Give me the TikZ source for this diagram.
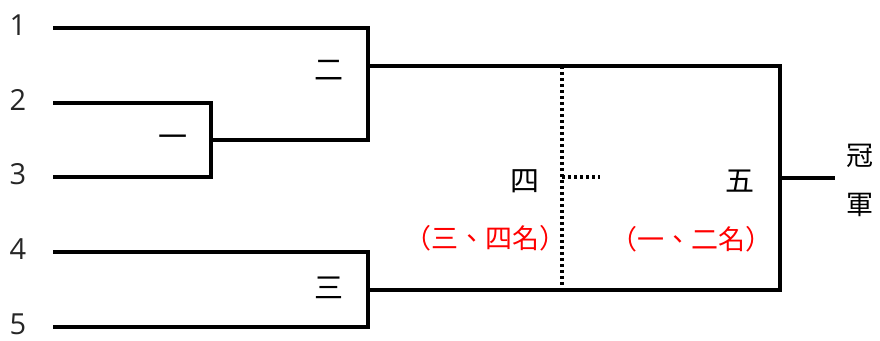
\documentclass[tikz,border=0pt]{standalone}
\usepackage{fontspec}
\setmainfont{Open Sans}
\newfontfamily\cjk{Noto Sans CJK TC}
\usepackage{tikz}
\tikzset{>=latex}

\begin{document}
\begin{tikzpicture}[x=1pt,y=-1pt,line width=3.2pt,line cap=rect,
	seed/.style={anchor=west,inner sep=0pt,font=\fontsize{29}{29}\selectfont\color{black!85}},
	round/.style={inner sep=0pt,font=\cjk\fontsize{29}{29}\selectfont},
	rank/.style={inner sep=0pt,text=red,font=\cjk\fontsize{27}{27}\selectfont},
	dotline/.style={line width=3.5pt,line cap=butt,dash pattern=on 3pt off 3pt}]
	\useasboundingbox (0,0) rectangle (880,340);
	\foreach \n/\y in {1/28,2/103,3/177,4/252,5/327}{
		\node[seed] (n\n) at (8,\y-3) {\n};
		\coordinate (s\n) at (55,\y);
	}
	\coordinate (g1) at (211,140);
	\coordinate (g2) at (368,66);
	\coordinate (g3) at (368,290);
	\coordinate (g5) at (780,178);
	\coordinate (champ) at (833,178);
	\coordinate (d4) at (562,66);
	\coordinate (d5) at (600,177);
	\draw (s2) -| (g1) |- (s3);
	\draw (s1) -| (g2) |- (g1);
	\draw (s4) -| (g3) |- (s5);
	\draw (g2) -| (g5) |- (g3);
	\draw (g5) -- (champ);
	\draw[dotline] (d4) -- (d4 |- g3);
	\draw[dotline] (d4 |- d5) -- (d5);
	\node[round] (r1) at (173,141) {一};
	\node[round] (r2) at (329,70) {二};
	\node[round] (r3) at (329,288) {三};
	\node[round] (r4) at (525,181) {四};
	\node[round] (r5) at (740,181) {五};
	\node[rank] (p4) at (485,238) {（三、四名）};
	\node[rank] (p5) at (691,239) {（一、二名）};
	\node[round,align=center,font=\cjk\fontsize{27}{49}\selectfont] (win) at (860,180) {冠\\軍};
\end{tikzpicture}
\end{document}
